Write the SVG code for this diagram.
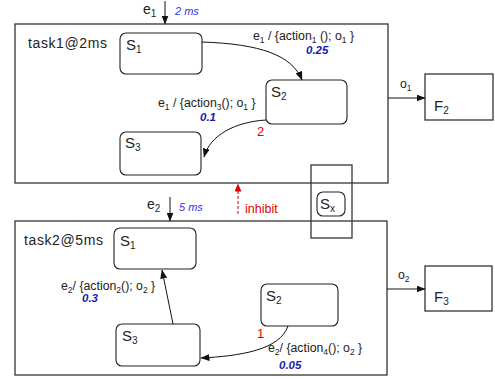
<svg xmlns="http://www.w3.org/2000/svg" width="495" height="379" viewBox="0 0 495 379">
<style>
text{font-family:"Liberation Sans",Arial,sans-serif;fill:#222}
.box{fill:none;stroke:#333;stroke-width:1.3}
.st{fill:#fff;stroke:#222;stroke-width:1.1}
.fb{fill:#fff;stroke:#333;stroke-width:1.3}
.lbl{font-size:12.3px}
.sn{font-size:15px}
.sub{font-size:10px}
.ss{font-size:8.5px}
.ms{font-size:11px;font-style:italic;fill:#3333ee}
.p{font-size:11.5px;font-style:italic;font-weight:bold;fill:#1a1aaa}
.ed{fill:none;stroke:#111;stroke-width:1}
.red{font-size:13px;fill:#e00000}
</style>
<defs>
<marker id="ah" markerWidth="9" markerHeight="7" refX="8.5" refY="3.5" orient="auto" markerUnits="userSpaceOnUse"><path d="M0,0 L9,3.5 L0,7 z" fill="#111"/></marker>
<marker id="ahr" markerWidth="8" markerHeight="7" refX="7.5" refY="3.5" orient="auto" markerUnits="userSpaceOnUse"><path d="M0,0 L8,3.5 L0,7 z" fill="#e00000"/></marker>
</defs>

<g id="task1">
<rect class="box" x="15" y="24" width="373" height="159"/>
<text x="28" y="48" font-size="14" letter-spacing="0.6">task1@2ms</text>
</g>
<g id="task2">
<rect class="box" x="15" y="221" width="372" height="154"/>
<text x="24" y="245" font-size="14" letter-spacing="0.6">task2@5ms</text>
</g>

<g id="t1_S1"><rect class="st" x="120" y="33" width="82" height="41" rx="6"/><text class="sn" x="126" y="50">S<tspan class="sub" dy="3">1</tspan></text></g>
<g id="t1_S2"><rect class="st" x="266" y="80" width="81" height="44" rx="6"/><text class="sn" x="271" y="97">S<tspan class="sub" dy="3">2</tspan></text></g>
<g id="t1_S3"><rect class="st" x="120" y="132" width="81" height="43" rx="6"/><text class="sn" x="125" y="148">S<tspan class="sub" dy="3">3</tspan></text></g>

<g id="t2_S1"><rect class="st" x="114" y="228" width="82" height="41" rx="6"/><text class="sn" x="120" y="246">S<tspan class="sub" dy="3">1</tspan></text></g>
<g id="t2_S2"><rect class="st" x="261" y="284" width="77" height="42" rx="6"/><text class="sn" x="266" y="301">S<tspan class="sub" dy="3">2</tspan></text></g>
<g id="t2_S3"><rect class="st" x="116" y="324" width="84" height="42" rx="6"/><text class="sn" x="122" y="341">S<tspan class="sub" dy="3">3</tspan></text></g>

<g id="Sx">
<rect class="box" x="311" y="165" width="41" height="73"/>
<rect class="st" x="317" y="192" width="28" height="24" rx="6"/>
<text class="sn" x="320" y="209">S<tspan class="sub" dy="3">x</tspan></text>
</g>

<g id="F2"><rect class="fb" x="425" y="74" width="68" height="46"/><text class="sn" x="434" y="111">F<tspan class="sub" dy="3">2</tspan></text></g>
<g id="F3"><rect class="fb" x="425" y="266" width="67" height="45"/><text class="sn" x="434" y="302">F<tspan class="sub" dy="3">3</tspan></text></g>

<g id="connectors">
<line class="ed" x1="165" y1="1" x2="165" y2="24" marker-end="url(#ah)"/>
<text x="143" y="14" font-size="14">e<tspan class="sub" dy="3">1</tspan></text>
<text class="ms" x="175" y="15">2 ms</text>

<line class="ed" x1="170" y1="197" x2="170" y2="221" marker-end="url(#ah)"/>
<text x="147" y="209" font-size="14">e<tspan class="sub" dy="3">2</tspan></text>
<text class="ms" x="179" y="211">5 ms</text>

<line x1="238" y1="214" x2="238" y2="184" stroke="#e00000" stroke-width="1" stroke-dasharray="3,2" marker-end="url(#ahr)"/>
<text x="245" y="213" font-size="12.5" style="fill:#e00000">inhibit</text>

<line class="ed" x1="388" y1="98" x2="425" y2="98" marker-end="url(#ah)"/>
<text class="lbl" x="400" y="88">o<tspan class="ss" dy="2.5">1</tspan></text>
<line class="ed" x1="387" y1="289" x2="425" y2="289" marker-end="url(#ah)"/>
<text class="lbl" x="398" y="279">o<tspan class="ss" dy="2.5">2</tspan></text>

<path class="ed" d="M202,42 C260,44 292,55 302,80" marker-end="url(#ah)"/>
<text class="lbl" x="253" y="40">e<tspan class="ss" dy="2.5">1</tspan><tspan dy="-2.5"> / {action</tspan><tspan class="ss" dy="2.5">1</tspan><tspan dy="-2.5"> (); o</tspan><tspan class="ss" dy="2.5">1</tspan><tspan dy="-2.5"> }</tspan></text>
<text class="p" x="306" y="54">0.25</text>

<path class="ed" d="M266,120 C235,122 210,135 204,157" marker-end="url(#ah)"/>
<text class="lbl" x="158" y="107">e<tspan class="ss" dy="2.5">1</tspan><tspan dy="-2.5"> / {action</tspan><tspan class="ss" dy="2.5">3</tspan><tspan dy="-2.5">(); o</tspan><tspan class="ss" dy="2.5">1</tspan><tspan dy="-2.5"> }</tspan></text>
<text class="p" x="200" y="121">0.1</text>
<text class="red" x="257" y="136">2</text>

<line class="ed" x1="173" y1="324" x2="162" y2="270" marker-end="url(#ah)"/>
<text class="lbl" x="61" y="290">e<tspan class="ss" dy="2.5">2</tspan><tspan dy="-2.5">/ {action</tspan><tspan class="ss" dy="2.5">2</tspan><tspan dy="-2.5">(); o</tspan><tspan class="ss" dy="2.5">2</tspan><tspan dy="-2.5"> }</tspan></text>
<text class="p" x="82" y="302">0.3</text>

<path class="ed" d="M288,326 C280,350 240,356 201,358" marker-end="url(#ah)"/>
<text class="red" x="257" y="338">1</text>
<text class="lbl" x="268" y="352">e<tspan class="ss" dy="2.5">2</tspan><tspan dy="-2.5">/ {action</tspan><tspan class="ss" dy="2.5">4</tspan><tspan dy="-2.5">(); o</tspan><tspan class="ss" dy="2.5">2</tspan><tspan dy="-2.5"> }</tspan></text>
<text class="p" x="279" y="369">0.05</text>
</g>
</svg>
